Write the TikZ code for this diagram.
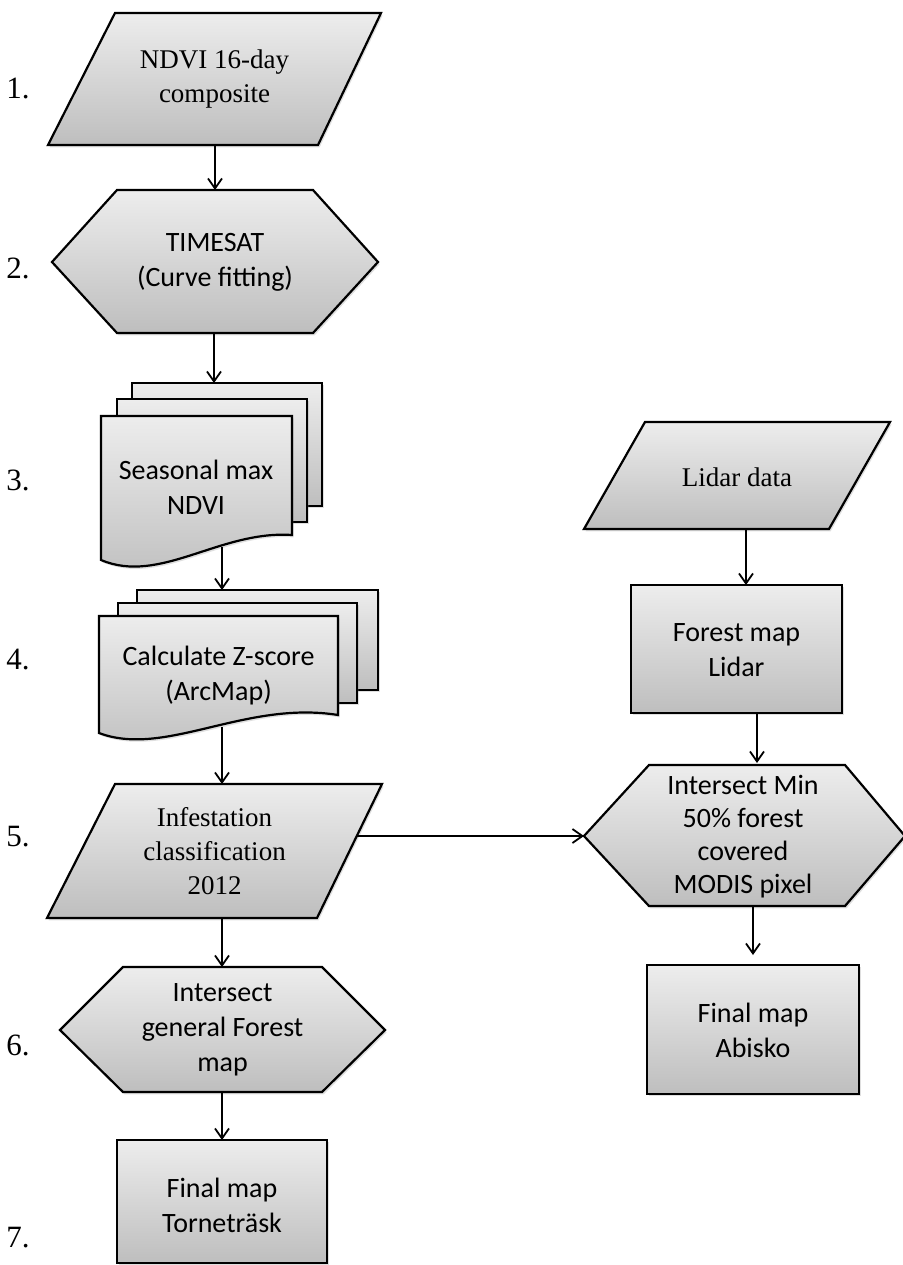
\documentclass[tikz,border=0pt]{standalone}
\usepackage{fontspec}
\setmainfont{Liberation Serif}
\newfontfamily\calibri{Carlito}
\usetikzlibrary{arrows.meta,shadows}

\definecolor{shadetop}{HTML}{EDEDED}
\definecolor{shadebot}{HTML}{BEBEBE}

\tikzset{
  box/.style={draw=black, line width=1.1pt, top color=shadetop, bottom color=shadebot,
    drop shadow={shadow xshift=0.8pt, shadow yshift=-1.2pt, opacity=0.25}},
  serif/.style={font=\fontsize{13.5}{17}\selectfont, align=center},
  sans/.style={font=\calibri\fontsize{14}{17.5}\selectfont, align=center},
  stepnum/.style={font=\fontsize{15.5}{18}\selectfont, anchor=west, inner sep=0pt},
  arr/.style={line width=0.9pt, -{Straight Barb[length=5pt,width=7pt]}},
}

\begin{document}
\begin{tikzpicture}[x=0.5pt, y=-0.5pt]
  \useasboundingbox (0,0) rectangle (902,1265);

  % 1. NDVI composite
  \draw[box] (115,13) -- (381,13) -- (318,145) -- (48,145) -- cycle;
  \node[serif] (ndvi) at (214.5,79) {NDVI 16-day\\composite};
  \coordinate (ndviB) at (215,145);

  % 2. TIMESAT
  \draw[box] (52,262) -- (117,190) -- (313,190) -- (378,262) -- (313,333) -- (117,333) -- cycle;
  \node[sans] (timesat) at (215,262.5) {TIMESAT\\(Curve fitting)};
  \coordinate (timesatT) at (215,190);
  \coordinate (timesatB) at (214,333);

  % 3. seasonal max, three pages
  \draw[box] (132,383) rectangle (322,506);
  \draw[box] (117,399) rectangle (307,522);
  \draw[box] (101,416) -- (292,416) -- (292,535) .. controls (220,530) and (160,585) .. (101,560) -- cycle;
  \node[sans] (seas) at (196,487.5) {Seasonal max\\NDVI};
  \coordinate (seasT) at (214,383);
  \coordinate (seasB) at (222,547);

  % 4. z-score, three pages
  \draw[box] (137,590) rectangle (378,690);
  \draw[box] (118,603) rectangle (357,703);
  \draw[box] (99,616) -- (338,616) -- (338,715) .. controls (245,700) and (165,758) .. (99,733) -- cycle;
  \node[sans] (zscore) at (218.5,675.5) {Calculate Z-score\\(ArcMap)};
  \coordinate (zT) at (222,590);
  \coordinate (zB) at (222,727);

  % 5. infestation
  \draw[box] (115,784) -- (382,784) -- (317,918) -- (47,918) -- cycle;
  \node[serif] (infest) at (214.5,851.5) {Infestation\\classification\\2012};
  \coordinate (infT) at (222,784);
  \coordinate (infB) at (222,918);
  \coordinate (infR) at (357,836);

  % 6. general forest map
  \draw[box] (60,1030) -- (123,967) -- (322,967) -- (385,1030) -- (322,1092) -- (123,1092) -- cycle;
  \node[sans] (genforest) at (222.5,1030) {Intersect\\general Forest\\map};
  \coordinate (genT) at (222,967);
  \coordinate (genB) at (222,1092);

  % 7. Tornetrask
  \draw[box] (117,1140) rectangle (327,1263);
  \node[sans] (trsk) at (222,1205) {Final map\\Torneträsk};
  \coordinate (trskT) at (222,1140);

  % lidar branch
  \draw[box] (645,422) -- (890,422) -- (829,529) -- (584,529) -- cycle;
  \node[serif] (lidar) at (737,477) {Lidar data};
  \coordinate (lidB) at (746,529);

  \draw[box] (631,585) rectangle (842,713);
  \node[sans] (fmap) at (736.5,650.5) {Forest map\\Lidar};
  \coordinate (fmT) at (746,585);
  \coordinate (fmB) at (757,713);

  \draw[box] (584,836) -- (649,765) -- (845,765) -- (905,836) -- (845,906) -- (649,906) -- cycle;
  \node[sans, font=\calibri\fontsize{14}{16.5}\selectfont] (minfor) at (743,837)
    {Intersect Min\\50\% forest\\covered\\MODIS pixel};
  \coordinate (minT) at (757,763);
  \coordinate (minL) at (584,836);
  \coordinate (minB) at (753,906);

  \draw[box] (647,965) rectangle (859,1094);
  \node[sans] (abisko) at (753,1030.5) {Final map\\Abisko};
  \coordinate (abT) at (753,955);

  % step numbers
  \node[stepnum] (s1) at (6,88) {1.};
  \node[stepnum] (s2) at (6,268) {2.};
  \node[stepnum] (s3) at (6,480) {3.};
  \node[stepnum] (s4) at (6,660) {4.};
  \node[stepnum] (s5) at (6,837) {5.};
  \node[stepnum] (s6) at (6,1045) {6.};
  \node[stepnum] (s7) at (6,1238) {7.};

  % arrows
  \draw[arr] (ndviB) -- (timesatT);
  \draw[arr] (timesatB) -- (seasT);
  \draw[arr] (seasB) -- (zT);
  \draw[arr] (zB) -- (infT);
  \draw[arr] (infB) -- (genT);
  \draw[arr] (genB) -- (trskT);
  \draw[arr] (infR) -- (minL);
  \draw[arr] (lidB) -- (fmT);
  \draw[arr] (fmB) -- (minT);
  \draw[arr] (minB) -- (abT);
\end{tikzpicture}
\end{document}
